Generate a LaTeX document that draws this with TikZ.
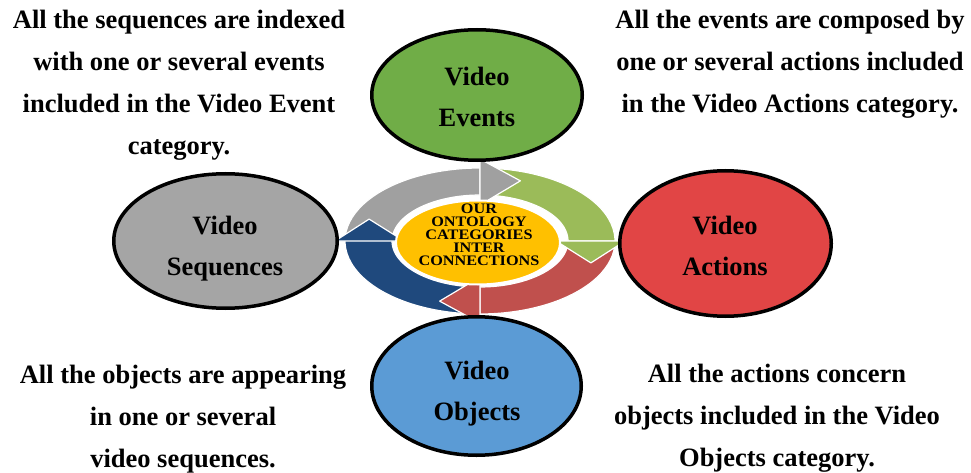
\documentclass[tikz,border=0pt]{standalone}
\usepackage{fontspec}
\setmainfont{Liberation Serif}
\newfontfamily\corefont[FakeStretch=1.12]{Liberation Serif}
\usetikzlibrary{shapes.geometric,calc}
\definecolor{evgreen}{HTML}{70AD47}
\definecolor{sqgray}{HTML}{A5A5A5}
\definecolor{acred}{HTML}{E14545}
\definecolor{obblue}{HTML}{5B9BD5}
\definecolor{argray}{HTML}{A0A0A0}
\definecolor{argreen}{HTML}{9BBB59}
\definecolor{arred}{HTML}{C0504D}
\definecolor{arblue}{HTML}{1F497D}
\definecolor{coreyellow}{HTML}{FFC000}
\begin{document}
\begin{tikzpicture}[x=1pt,y=1pt,
  blk/.style={font=\fontsize{26.5}{42}\selectfont\bfseries, align=center, inner sep=0pt, anchor=base},
  lbl/.style={font=\fontsize{26.5}{41}\selectfont\bfseries, align=center, inner sep=0pt, anchor=base},
  cat/.style={ellipse, draw=black, line width=3.5pt, inner sep=0pt},
  band/.style={draw=white, line width=1.2pt, line join=round},
  core/.style={font=\corefont\fontsize{14.5}{13}\selectfont\bfseries, align=center, inner sep=0pt, anchor=base}]
\useasboundingbox (0,0) rectangle (971,472);
\coordinate (C) at (480,231);
% ring bands
\foreach \a/\col in {180/argray, 90/argreen, 0/arred, 270/arblue}{
  \path[band, fill=\col] ($(C)+(\a:135 and 73)$)
     arc[start angle=\a, end angle=\a-92, x radius=135, y radius=73]
     -- ($(C)+(\a-92:88 and 46)$)
     arc[start angle=\a-92, end angle=\a, x radius=88, y radius=46] -- cycle;
}
% arrow heads
\foreach \a/\col in {180/argray, 90/argreen, 0/arred, 270/arblue}{
  \path[band, fill=\col] ($(C)+(\a-90:145 and 82)$)
     -- ($(C)+(\a-110:118 and 64)$)
     -- ($(C)+(\a-90:76 and 36)$) -- cycle;
}
% core
\node[ellipse, fill=coreyellow, draw=white, line width=2pt, minimum width=164pt, minimum height=84pt, inner sep=0pt] (core) at (478,229.5) {};
\node[core] (coretext) at (479,207) {OUR\\ONTOLOGY\\CATEGORIES\\INTER\\CONNECTIONS};
% categories
\node[cat, fill=evgreen, minimum width=210.5pt, minimum height=130.5pt] (ev) at (477,377) {};
\node[cat, fill=sqgray, minimum width=223.5pt, minimum height=134.5pt] (sq) at (225.5,231) {};
\node[cat, fill=acred, minimum width=211.5pt, minimum height=145.5pt] (ac) at (725.5,228.5) {};
\node[cat, fill=obblue, minimum width=209.5pt, minimum height=138.5pt] (ob) at (476.5,86) {};
\node[lbl] (evt) at (477,345) {Video\\Events};
\node[lbl] (sqt) at (225,197) {Video\\Sequences};
\node[lbl] (act) at (725,197) {Video\\Actions};
\node[lbl] (obt) at (477,52) {Video\\Objects};
% descriptions
\node[blk] (tl) at (179,317) {All the sequences are indexed\\with one or several events\\included in the Video Event\\category.};
\node[blk] (tr) at (790,359) {All the events are composed by\\one or several actions included\\in the Video Actions category.};
\node[blk] (bl) at (183,5) {All the objects are appearing\\in one or several\\video sequences.};
\node[blk] (br) at (777,6) {All the actions concern\\objects included in the Video\\Objects category.};
\end{tikzpicture}
\end{document}
